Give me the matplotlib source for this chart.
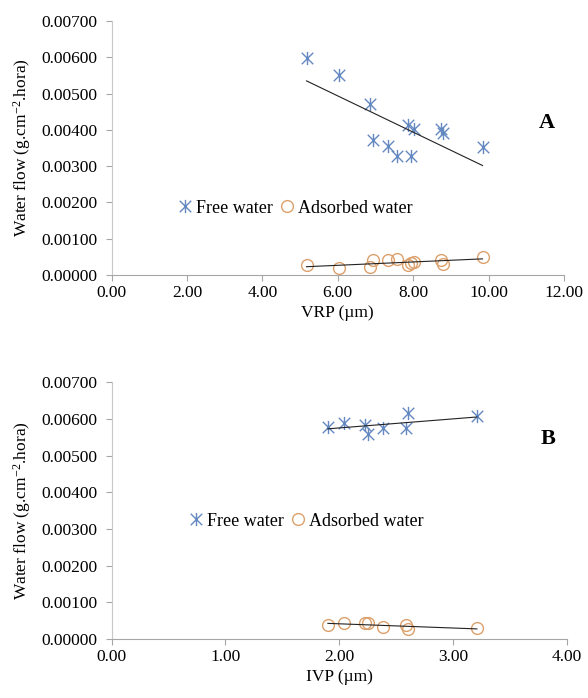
import numpy as np
import matplotlib
matplotlib.use("Agg")
import matplotlib.pyplot as plt
from matplotlib.path import Path
from matplotlib.ticker import FormatStrFormatter

plt.rcParams["font.family"] = ["Liberation Serif", "DejaVu Serif"]
plt.rcParams["mathtext.fontset"] = "custom"
plt.rcParams["mathtext.rm"] = "Liberation Serif"
plt.rcParams["mathtext.it"] = "Liberation Serif:italic"
plt.rcParams["mathtext.bf"] = "Liberation Serif:bold"

# -------------------------------
# data
vrp = [5.17, 6.02, 6.85, 6.94, 7.34, 7.58, 7.85, 7.93, 8.02, 8.73, 8.80, 9.84]
free_a = [0.00599, 0.00552, 0.00470, 0.00373, 0.00356, 0.00329,
          0.00414, 0.00329, 0.00401, 0.00402, 0.00390, 0.00354]
ads_a = [0.00028, 0.00019, 0.00021, 0.00041, 0.00040, 0.00043,
         0.00028, 0.00032, 0.00035, 0.00041, 0.00030, 0.00051]

ivp = [1.90, 2.04, 2.23, 2.25, 2.38, 2.59, 2.60, 3.21]
free_b = [0.00578, 0.00590, 0.00583, 0.00559, 0.00574, 0.00574, 0.00615, 0.00608]
ads_b = [0.00038, 0.00044, 0.00043, 0.00043, 0.00034, 0.00038, 0.00026, 0.00029]

y_ticks = [0.0, 0.001, 0.002, 0.003, 0.004, 0.005, 0.006, 0.007]

blue = "#6489C0"
orange = "#DCA06C"
axis_grey = "#A6A6A6"

# Excel-style star: an x with a vertical bar
star = Path([(-1, -1), (1, 1), (-1, 1), (1, -1), (0, -1.15), (0, 1.15)],
            [Path.MOVETO, Path.LINETO, Path.MOVETO, Path.LINETO, Path.MOVETO, Path.LINETO])


def panel(ax, x, free, ads, xmax, xstep, xlabel, letter, letter_pos, leg_pos):
    ax.plot(x, free, linestyle="none", marker=star, markersize=9.5,
            markeredgecolor=blue, markeredgewidth=1.0, label="Free water")
    ax.plot(x, ads, linestyle="none", marker="o", markersize=8.5,
            markerfacecolor="none", markeredgecolor=orange, markeredgewidth=1.0,
            label="Adsorbed water")
    # linear trend lines
    for ys in (free, ads):
        k, b = np.polyfit(x, ys, 1)
        xs = np.array([min(x), max(x)])
        ax.plot(xs, k * xs + b, color="#222222", lw=0.8)

    ax.set_xlim(0, xmax)
    ax.set_ylim(0, 0.007)
    ax.set_xticks(np.arange(0, xmax + xstep / 2, xstep))
    ax.set_yticks(y_ticks)
    ax.xaxis.set_major_formatter(FormatStrFormatter("%.2f"))
    ax.yaxis.set_major_formatter(FormatStrFormatter("%.5f"))
    ax.tick_params(labelsize=12.5, color=axis_grey, length=4, width=0.8)
    ax.tick_params(axis="y", pad=6)
    ax.tick_params(axis="x", pad=3)
    for s in ("top", "right"):
        ax.spines[s].set_visible(False)
    ax.spines["left"].set_color("#C8C8C8")
    ax.spines["bottom"].set_color(axis_grey)
    ax.set_xlabel(xlabel, fontsize=12.5, labelpad=3)
    ax.set_ylabel(r"Water flow (g.cm$^{\mathrm{-2}}$.hora)", fontsize=12.5, labelpad=6)
    ax.text(letter_pos[0], letter_pos[1], letter, transform=ax.transAxes,
            fontsize=16, fontweight="bold", ha="center", va="center")
    ax.legend(loc="center left", bbox_to_anchor=leg_pos, ncol=2, frameon=False,
              fontsize=13, handlelength=0.6, handletextpad=0.3, columnspacing=0.5,
              borderaxespad=0, borderpad=0)


fig = plt.figure(figsize=(5.88, 6.98), dpi=100)
ax_a = fig.add_axes([0.190, 0.606, 0.769, 0.364])
ax_b = fig.add_axes([0.190, 0.0845, 0.774, 0.368])

panel(ax_a, vrp, free_a, ads_a, 12, 2, "VRP (µm)", "A", (0.962, 0.60), (0.15, 0.263))
panel(ax_b, ivp, free_b, ads_b, 4, 1, "IVP (µm)", "B", (0.958, 0.78), (0.173, 0.459))

fig.savefig("out.png", dpi=100)
